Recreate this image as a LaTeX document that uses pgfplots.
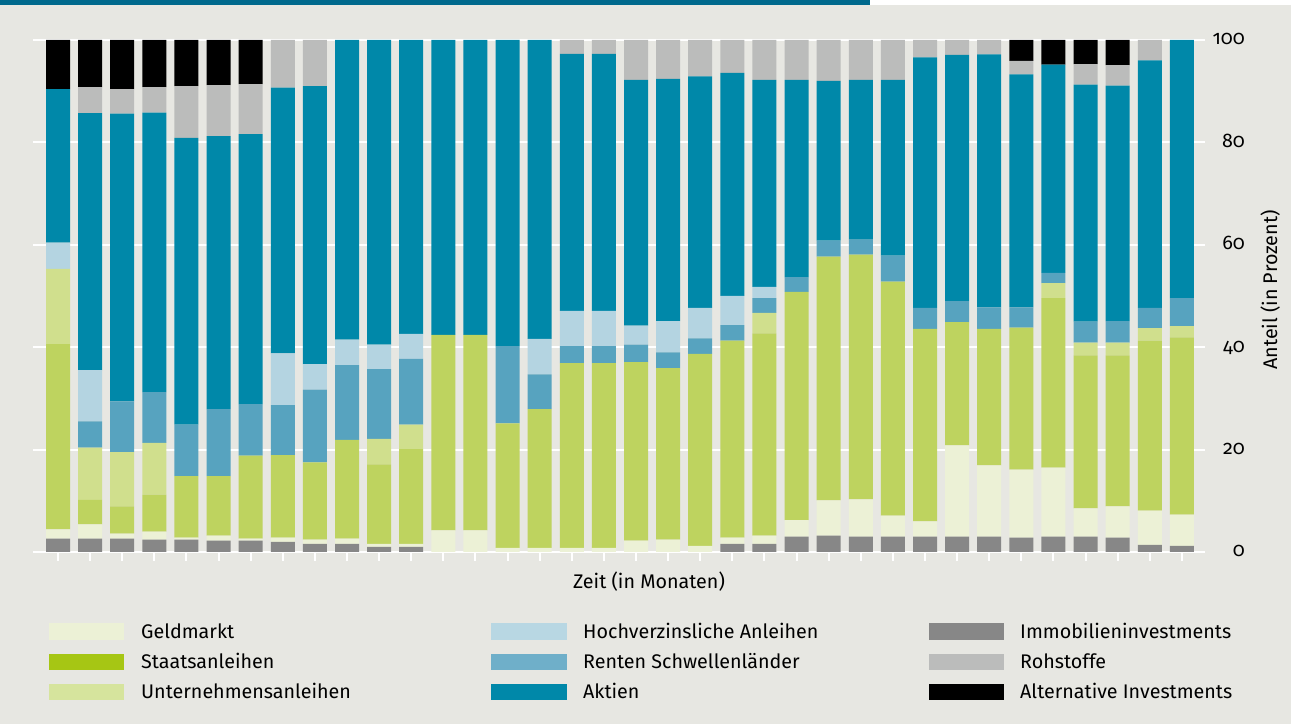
\documentclass[border=0pt]{standalone}
\usepackage{pgfplots}
\pgfplotsset{compat=1.18}
\usepackage{pgfplotstable}
\usepackage{fontspec}
\setmainfont{Fira Sans}[Numbers=OldStyle]
\definecolor{bg}{HTML}{E7E7E2}
\definecolor{topteal}{HTML}{00698D}
\definecolor{cimmo}{HTML}{878787}
\definecolor{cgeld}{HTML}{ECF1D6}
\definecolor{cstaats}{HTML}{BED35F}
\definecolor{lstaats}{HTML}{A6C614}
\definecolor{cunt}{HTML}{D0DF8D}
\definecolor{lunt}{HTML}{D6E49D}
\definecolor{cschw}{HTML}{57A3BF}
\definecolor{lschw}{HTML}{6FAFC9}
\definecolor{choch}{HTML}{B4D4E1}
\definecolor{lhoch}{HTML}{B8D7E3}
\definecolor{caktien}{HTML}{0088A9}
\definecolor{croh}{HTML}{BBBCBB}
\definecolor{calt}{HTML}{000000}

\pgfplotstableread{
x  immo geld staats unt  schw hoch aktien roh  alt
1  2.6  1.8  36.2   14.7 0    5.1  30.0   0    9.6
2  2.6  2.8  4.8    10.2 5.1  10.0 50.2   5.1  9.2
3  2.6  1.0  5.3    10.6 9.9  0    56.2   4.8  9.6
4  2.4  1.6  7.2    10.1 9.9  0    54.6   5.0  9.2
5  2.4  0.4  12.0   0    10.1 0    56.0   10.1 9.0
6  2.2  1.0  11.6   0    13.1 0    53.3   10.0 8.8
7  2.2  0.4  16.2   0    10.1 0    52.7   9.8  8.6
8  2.0  0.8  16.1   0    9.8  10.1 51.9   9.3  0
9  1.6  0.8  15.1   0    14.2 5.0  54.3   9.0  0
10 1.6  1.0  19.3   0    14.6 5.0  58.5   0    0
11 1.0  0.6  15.5   5.0  13.6 4.8  59.5   0    0
12 1.0  0.6  18.5   4.8  12.8 4.9  57.4   0    0
13 0    4.2  38.2   0    0    0    57.6   0    0
14 0    4.2  38.2   0    0    0    57.6   0    0
15 0    0.8  24.3   0    15.1 0    59.8   0    0
16 0    0.8  27.1   0    6.8  6.9  58.4   0    0
17 0    0.8  36.1   0    3.3  6.9  50.2   2.7  0
18 0    0.8  36.1   0    3.3  6.9  50.2   2.7  0
19 0    2.2  34.9   0    3.4  3.7  48.0   7.8  0
20 0    2.4  33.5   0    3.1  6.1  47.3   7.6  0
21 0    1.2  37.5   0    3.0  6.0  45.2   7.1  0
22 1.6  1.2  38.5   0    3.0  5.7  43.6   6.4  0
23 1.6  1.6  39.5   4.0  2.9  2.2  40.4   7.8  0
24 3.0  3.2  44.6   0    2.9  0    38.5   7.8  0
25 3.2  6.9  47.6   0    3.1  0    31.2   8.0  0
26 3.0  7.3  47.8   0    2.9  0    31.2   7.8  0
27 3.0  4.1  45.7   0    5.1  0    34.3   7.8  0
28 3.0  3.0  37.6   0    4.1  0    48.9   3.4  0
29 3.0  17.8 24.1   0    4.1  0    48.1   2.9  0
30 3.0  13.9 26.7   0    4.2  0    49.4   2.8  0
31 2.8  13.3 27.7   0    4.0  0    45.5   2.6  4.1
32 3.0  13.5 33.1   2.9  2.0  0    40.7   0    4.8
33 3.0  5.5  29.9   2.5  4.1  0    46.3   4.0  4.7
34 2.8  6.1  29.5   2.5  4.2  0    46.0   4.0  4.9
35 1.4  6.7  33.2   2.4  4.0  0    48.3   4.0  0
36 1.2  6.1  34.6   2.2  5.5  0    50.4   0    0
}\data

\begin{document}
\begin{tikzpicture}[x=1bp,y=1bp,font=\fontsize{19.7bp}{23bp}\selectfont]
\path[use as bounding box, fill=bg] (0,0) rectangle (1291,724);
\fill[topteal] (0,719) rectangle (870,724);
\fill[white] (870,719) rectangle (1291,724);
\begin{axis}[
  at={(33bp,172bp)}, anchor=south west,
  scale only axis, width=1172bp, height=512bp,
  xmin=0.221, xmax=36.72, ymin=0, ymax=100,
  ybar stacked, bar width=24bp,
  axis line style={draw=none},
  ymajorgrids, grid style={white, line width=2bp},
  ytick={0,20,...,100}, ytick pos=right, yticklabel pos=right,
  ytick style={draw=none},
  yticklabel style={anchor=base east, inner sep=0pt, xshift=31bp, yshift=-5bp,
     font=\fontsize{19.7bp}{23bp}\selectfont},
  xtick={1,...,36}, xticklabels={}, xtick pos=bottom,
  xtick style={white, line width=2bp},
  tick align=outside, major tick length=9bp,
  /pgf/number format/assume math mode=true,
]
\addplot[fill=cimmo, draw=none] table[x=x,y=immo]{\data};
\addplot[fill=cgeld, draw=none] table[x=x,y=geld]{\data};
\addplot[fill=cstaats, draw=none] table[x=x,y=staats]{\data};
\addplot[fill=cunt, draw=none] table[x=x,y=unt]{\data};
\addplot[fill=cschw, draw=none] table[x=x,y=schw]{\data};
\addplot[fill=choch, draw=none] table[x=x,y=hoch]{\data};
\addplot[fill=caktien, draw=none] table[x=x,y=aktien]{\data};
\addplot[fill=croh, draw=none] table[x=x,y=roh]{\data};
\addplot[fill=calt, draw=none] table[x=x,y=alt]{\data};
\end{axis}
% axis titles
\node[anchor=base, inner sep=0pt] at (649,135) {Zeit (in Monaten)};
\node[anchor=base, rotate=90, inner sep=0pt] at (1277,434) {Anteil (in Prozent)};
% legend
\fill[cgeld]   (49,84) rectangle (124,101);
\fill[lstaats] (49,54) rectangle (124,70);
\fill[lunt]    (49,24) rectangle (124,40);
\fill[lhoch]   (491,84) rectangle (567,101);
\fill[lschw]   (491,54) rectangle (567,70);
\fill[caktien] (491,24) rectangle (567,40);
\fill[cimmo]   (929,84) rectangle (1004,101);
\fill[croh]    (929,54) rectangle (1004,70);
\fill[calt]    (929,24) rectangle (1004,40);
\node[anchor=base west, inner sep=0pt] at (141,85) {Geldmarkt};
\node[anchor=base west, inner sep=0pt] at (141,55) {Staatsanleihen};
\node[anchor=base west, inner sep=0pt] at (141,25) {Unternehmensanleihen};
\node[anchor=base west, inner sep=0pt] at (583,85) {Hochverzinsliche Anleihen};
\node[anchor=base west, inner sep=0pt] at (583,55) {Renten Schwellenländer};
\node[anchor=base west, inner sep=0pt] at (583,25) {Aktien};
\node[anchor=base west, inner sep=0pt] at (1020,85) {Immobilieninvestments};
\node[anchor=base west, inner sep=0pt] at (1020,55) {Rohstoffe};
\node[anchor=base west, inner sep=0pt] at (1020,25) {Alternative Investments};
\end{tikzpicture}
\end{document}
